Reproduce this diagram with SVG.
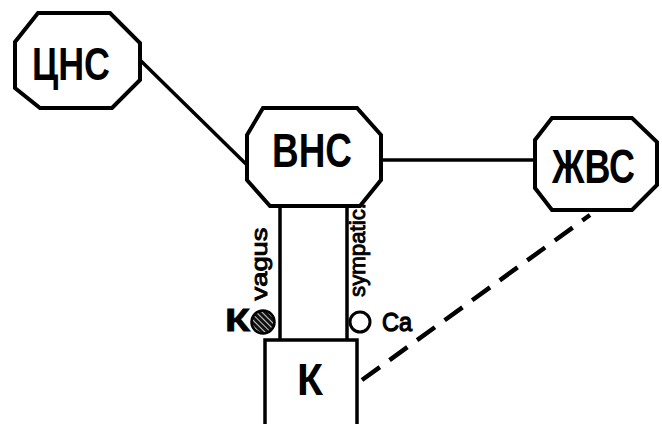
<svg xmlns="http://www.w3.org/2000/svg" width="662" height="424" viewBox="0 0 662 424">
<style>
.oct{fill:#fff;stroke:#000;stroke-width:4;stroke-linejoin:miter}
.big{font-family:"Liberation Sans Narrow","Liberation Sans",Arial,sans-serif;font-weight:bold;fill:#000}
.lbl{font-family:"Liberation Sans Narrow","Liberation Sans",Arial,sans-serif;fill:#000;stroke:#000}
.ln{stroke:#000;stroke-width:3.5;fill:none}
</style>
<defs>
<pattern id="hatch" width="4" height="4" patternUnits="userSpaceOnUse" patternTransform="rotate(-45)">
<rect width="4" height="4" fill="#111"/>
<rect x="0" y="0" width="1" height="4" fill="#ccc"/>
</pattern>
</defs>
<rect width="662" height="424" fill="#fff"/>
<g id="connectors">
<line class="ln" x1="140" y1="60" x2="247" y2="165"/>
<line class="ln" x1="381" y1="160" x2="535" y2="160"/>
<line class="ln" x1="280" y1="206" x2="280" y2="340"/>
<line class="ln" x1="347" y1="206" x2="347" y2="340"/>
<line x1="362" y1="380" x2="590" y2="215" stroke="#000" stroke-width="4.5" stroke-dasharray="22 12"/>
</g>
<g id="cns">
<polygon class="oct" points="38,13 110,13 140,43 140,80 112,108 40,108 15,88 15,42"/>
<text class="big" x="32" y="80" font-size="46" textLength="78" lengthAdjust="spacingAndGlyphs">ЦНС</text>
</g>
<g id="vns">
<polygon class="oct" points="263,108 357,108 381,135 381,180 360,206 270,206 247,180 247,135"/>
<text class="big" x="272" y="167" font-size="48" textLength="80" lengthAdjust="spacingAndGlyphs">ВНС</text>
</g>
<g id="zhvs">
<polygon class="oct" points="552,118 632,118 657,142 657,185 632,210 552,210 535,188 535,140"/>
<text class="big" x="552" y="183" font-size="48" textLength="83" lengthAdjust="spacingAndGlyphs">ЖВС</text>
</g>
<g id="k-box">
<polyline class="ln" points="265,424 265,340 357,340 357,424" stroke-width="4"/>
<text class="big" x="297" y="395" font-size="44" textLength="26" lengthAdjust="spacingAndGlyphs">К</text>
</g>
<g id="k-point">
<circle cx="263" cy="322" r="11.5" fill="url(#hatch)" stroke="#000" stroke-width="2.5"/>
<text class="big" x="225" y="331" font-size="32" stroke="#000" stroke-width="0.8" textLength="25" lengthAdjust="spacingAndGlyphs">К</text>
</g>
<g id="ca-point">
<circle cx="360" cy="322" r="10" fill="#fff" stroke="#000" stroke-width="3"/>
<text class="lbl" x="382" y="331" font-size="26" stroke-width="1.3" textLength="30" lengthAdjust="spacingAndGlyphs">Ca</text>
</g>
<g id="labels">
<text class="lbl" transform="translate(267,264) rotate(-90)" text-anchor="middle" font-size="22" stroke-width="0.9" textLength="73" lengthAdjust="spacingAndGlyphs">vagus</text>
<text class="lbl" transform="translate(365,250) rotate(-90)" text-anchor="middle" font-size="22" stroke-width="0.9" textLength="94" lengthAdjust="spacingAndGlyphs">sympatic.</text>
</g>
</svg>
